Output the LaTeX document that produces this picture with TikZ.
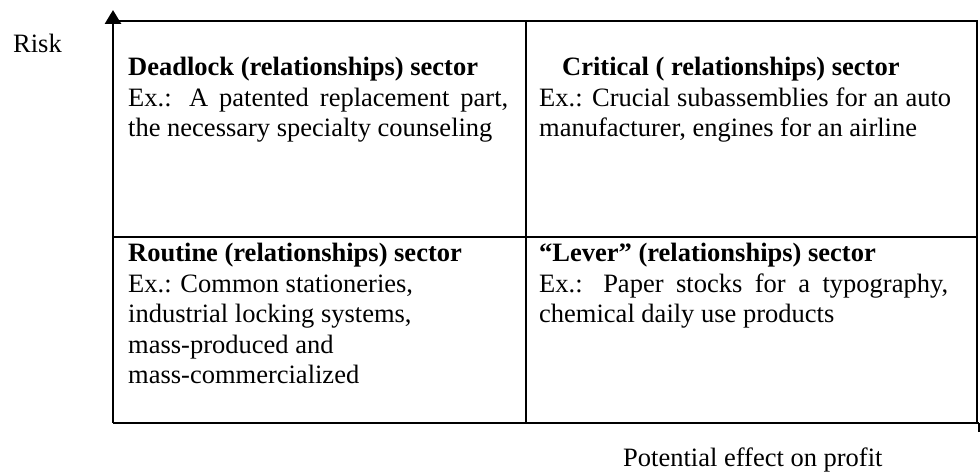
\documentclass[tikz,border=0pt]{standalone}
\usepackage{fontspec}
\setmainfont{Liberation Serif}
\usetikzlibrary{arrows.meta}
\tikzset{
  txt/.style={anchor=base west, inner sep=0pt, font=\fontsize{26.5}{30.5}\selectfont},
  gridline/.style={line width=1.5pt},
  axisline/.style={line width=2.8pt}
}
\begin{document}
\begin{tikzpicture}[x=1pt,y=1pt]
\useasboundingbox (0,0) rectangle (980,473);
% grid coordinates
\coordinate (tl) at (113,451.5);
\coordinate (tm) at (526,451.5);
\coordinate (tr) at (977,451.5);
\coordinate (ml) at (113,236);
\coordinate (mr) at (977,236);
\coordinate (bl) at (113,50);
\coordinate (bm) at (526,50);
\coordinate (br) at (977,50);
\coordinate (axtop) at (113,463);
\coordinate (axend) at (979,50);
\coordinate (tickend) at (979,41);
% grid
\draw[line width=2pt] (tl) -- (tr) -- (br);
\draw[gridline] (tm) -- (bm);
\draw[gridline] (ml) -- (mr);
\draw[line width=1.2pt] (axend) -- (tickend);
% axes
\draw[axisline] (bl) -- (axend);
\draw[axisline,-{Triangle[length=14pt,width=16pt]}] (bl) -- (axtop);
% axis labels
\node[txt] (risk) at (13,420) {Risk};
\node[txt] (profit) at (623,6) {Potential effect on profit};
% cells
\node[txt] (deadlock) at (128,397) {\parbox[t]{390pt}{\textbf{Deadlock (relationships) sector}\\
\makebox[380pt][s]{Ex.: A patented replacement part,}\\
the necessary specialty counseling}};
\node[txt] (critical) at (539,397) {\parbox[t]{430pt}{\hspace*{23pt}\textbf{Critical ( relationships) sector}\\
\makebox[412pt][s]{Ex.: Crucial subassemblies for an auto}\\
manufacturer, engines for an airline}};
\node[txt] (routine) at (128,211) {\parbox[t]{390pt}{\textbf{Routine (relationships) sector}\\
Ex.: Common stationeries,\\
industrial locking systems,\\
mass-produced and\\
mass-commercialized}};
\node[txt] (lever) at (539,211) {\parbox[t]{430pt}{\textbf{“Lever” (relationships) sector}\\
\makebox[409pt][s]{Ex.: Paper stocks for a typography,}\\
chemical daily use products}};
\end{tikzpicture}
\end{document}
